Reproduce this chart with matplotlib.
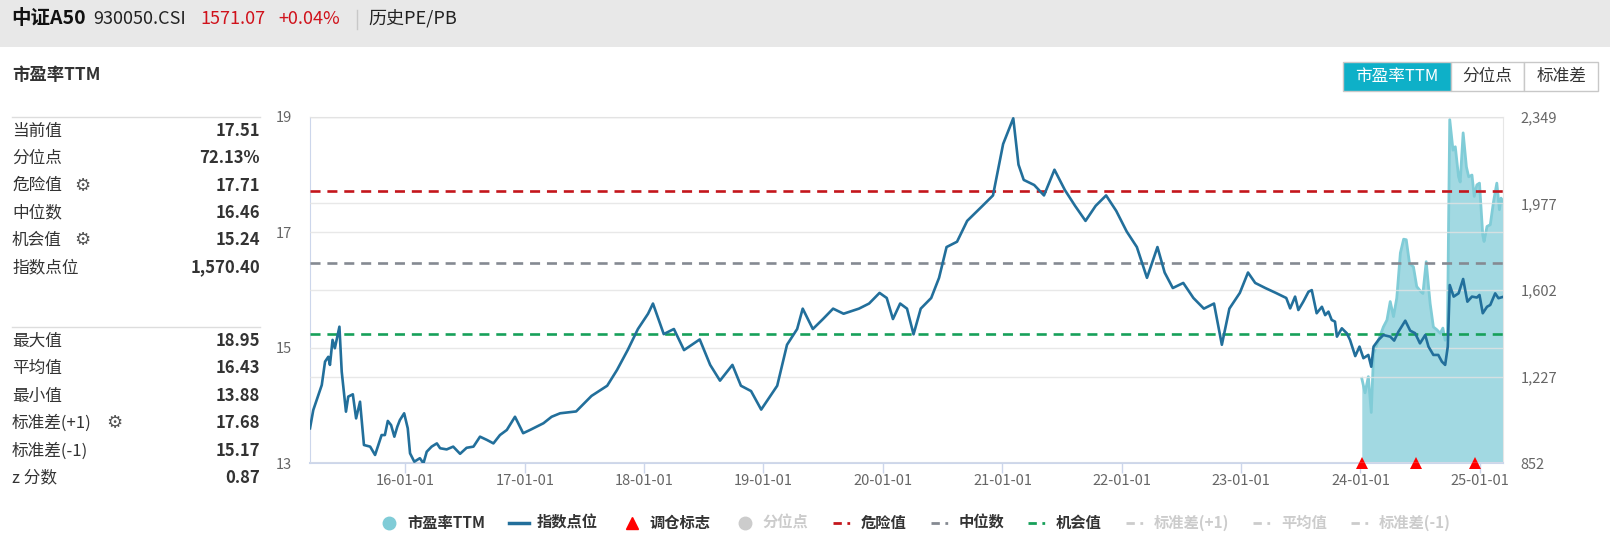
import numpy as np
import pandas as pd
import matplotlib
matplotlib.use('Agg')
import matplotlib.pyplot as plt
import matplotlib.dates as mdates
from matplotlib.patches import Rectangle
from matplotlib.lines import Line2D

plt.rcParams['font.family'] = ['Noto Sans CJK SC', 'DejaVu Sans']

W, H = 1610, 542

# 指数点位 (right axis)
idx_dates = ['2015-03-16', '2015-03-26', '2015-04-21', '2015-05-01', '2015-05-11', '2015-05-16',
             '2015-05-24', '2015-05-31', '2015-06-14', '2015-06-21', '2015-07-04', '2015-07-11',
             '2015-07-25', '2015-08-04', '2015-08-16', '2015-08-28', '2015-09-16', '2015-10-01',
             '2015-10-21', '2015-10-31', '2015-11-09', '2015-11-19', '2015-11-29', '2015-12-08',
             '2015-12-16', '2015-12-29', '2016-01-09', '2016-01-16', '2016-01-29', '2016-02-15',
             '2016-02-26', '2016-03-07', '2016-03-22', '2016-04-07', '2016-04-17', '2016-05-07',
             '2016-05-27', '2016-06-17', '2016-07-07', '2016-07-28', '2016-08-17', '2016-09-07',
             '2016-09-27', '2016-10-17', '2016-11-07', '2016-12-02', '2016-12-27', '2017-01-17',
             '2017-02-06', '2017-02-27', '2017-03-24', '2017-04-19', '2017-06-07', '2017-07-24',
             '2017-09-10', '2017-10-10', '2017-11-12', '2017-12-13', '2018-01-13', '2018-01-28',
             '2018-03-02', '2018-04-02', '2018-05-03', '2018-06-20', '2018-07-22', '2018-08-21',
             '2018-09-28', '2018-10-24', '2018-11-24', '2018-12-25', '2019-02-12', '2019-03-14',
             '2019-04-14', '2019-05-01', '2019-06-01', '2019-07-02', '2019-08-02', '2019-09-03',
             '2019-10-20', '2019-11-20', '2019-12-22', '2020-01-13', '2020-02-01', '2020-02-23',
             '2020-03-15', '2020-04-04', '2020-04-26', '2020-05-28', '2020-06-21', '2020-07-14',
             '2020-08-15', '2020-09-15', '2020-11-01', '2020-12-03', '2021-01-03', '2021-02-03',
             '2021-02-19', '2021-03-07', '2021-04-08', '2021-05-08', '2021-06-09', '2021-07-11',
             '2021-08-11', '2021-09-12', '2021-10-13', '2021-11-14', '2021-12-15', '2022-01-16',
             '2022-02-16', '2022-03-19', '2022-04-20', '2022-05-12', '2022-06-06', '2022-07-08',
             '2022-08-08', '2022-09-09', '2022-10-10', '2022-11-03', '2022-11-26', '2022-12-28',
             '2023-01-22', '2023-02-13', '2023-03-16', '2023-04-17', '2023-05-19', '2023-05-31',
             '2023-06-15', '2023-06-25', '2023-07-10', '2023-07-26', '2023-08-05', '2023-08-20',
             '2023-09-05', '2023-09-15', '2023-09-25', '2023-10-05', '2023-10-15', '2023-10-21',
             '2023-11-05', '2023-11-20', '2023-11-30', '2023-12-16', '2023-12-29', '2024-01-10',
             '2024-01-25', '2024-02-03', '2024-02-10', '2024-02-25', '2024-03-11', '2024-04-01',
             '2024-04-13', '2024-04-26', '2024-05-17', '2024-06-01', '2024-06-16', '2024-07-01',
             '2024-07-17', '2024-07-27', '2024-08-11', '2024-08-26', '2024-09-06', '2024-09-16',
             '2024-09-24', '2024-09-30', '2024-10-12', '2024-10-27', '2024-11-10', '2024-11-23',
             '2024-12-07', '2024-12-22', '2024-12-30', '2025-01-09', '2025-01-22', '2025-02-01',
             '2025-02-16', '2025-02-26', '2025-03-11']
idx_vals = [1003, 1082, 1190, 1291, 1312, 1277, 1385, 1349, 1442, 1248, 1075, 1140,
            1150, 1046, 1118, 931, 924, 888, 974, 974, 1035, 1017, 967, 1010,
            1039, 1068, 1003, 895, 859, 874, 852, 902, 924, 938, 917, 912,
            924, 893, 919, 924, 967, 953, 938, 974, 996, 1053, 982, 996,
            1010, 1025, 1053, 1068, 1076, 1143, 1187, 1255, 1342, 1432, 1498, 1542,
            1410, 1432, 1341, 1387, 1277, 1209, 1277, 1187, 1164, 1084, 1187, 1364,
            1432, 1520, 1432, 1475, 1520, 1498, 1520, 1542, 1588, 1566, 1475, 1542,
            1520, 1409, 1520, 1566, 1653, 1786, 1809, 1899, 1964, 2009, 2231, 2342,
            2142, 2076, 2054, 2009, 2120, 2032, 1964, 1899, 1964, 2009, 1942, 1853,
            1786, 1653, 1786, 1676, 1609, 1631, 1566, 1520, 1542, 1364, 1520, 1588,
            1676, 1631, 1609, 1588, 1566, 1521, 1572, 1514, 1550, 1593, 1600, 1500,
            1528, 1492, 1507, 1471, 1464, 1399, 1435, 1414, 1385, 1315, 1356, 1306,
            1320, 1269, 1356, 1385, 1406, 1399, 1382, 1420, 1468, 1425, 1414, 1370,
            1406, 1356, 1320, 1320, 1291, 1277, 1356, 1622, 1572, 1586, 1648, 1550,
            1572, 1568, 1579, 1500, 1528, 1536, 1586, 1565, 1570.4]

# 市盈率TTM (left axis)
pe_dates = ['2024-01-05', '2024-01-15', '2024-01-25', '2024-02-03', '2024-02-10', '2024-02-25',
            '2024-03-11', '2024-03-22', '2024-04-01', '2024-04-11', '2024-04-21', '2024-05-02',
            '2024-05-12', '2024-05-20', '2024-05-30', '2024-06-11', '2024-06-21', '2024-07-04',
            '2024-07-10', '2024-07-20', '2024-08-01', '2024-08-11', '2024-08-22', '2024-09-01',
            '2024-09-09', '2024-09-16', '2024-09-23', '2024-09-26', '2024-09-30', '2024-10-10',
            '2024-10-17', '2024-10-27', '2024-11-01', '2024-11-10', '2024-11-20', '2024-11-27',
            '2024-12-07', '2024-12-14', '2024-12-22', '2024-12-30', '2025-01-09', '2025-01-13',
            '2025-01-22', '2025-02-01', '2025-02-11', '2025-02-21', '2025-03-01', '2025-03-06',
            '2025-03-11']
pe_vals = [14.47, 14.22, 14.50, 13.88, 14.90, 15.13, 15.36, 15.48, 15.80, 15.54, 15.86, 16.64,
           16.88, 16.87, 16.46, 16.40, 16.06, 15.97, 15.94, 16.49, 15.77, 15.36, 15.31, 15.25,
           15.34, 15.13, 15.20, 16.90, 18.95, 18.42, 18.48, 17.96, 17.87, 18.72, 18.13, 17.96,
           17.99, 17.62, 17.82, 17.85, 16.95, 16.84, 17.10, 17.13, 17.53, 17.85, 17.39, 17.59,
           17.51]

trade_dates = ['2024-01-05', '2024-06-19', '2024-12-17']

danger, median, chance = 17.71, 16.46, 15.24
pe_ticks = [13, 15, 17, 19]
idx_tick_labels = ['852', '1,227', '1,602', '1,977', '2,349']

stat_labels1 = ['当前值', '分位点', '危险值', '中位数', '机会值', '指数点位']
stat_vals1 = ['17.51', '72.13%', '17.71', '16.46', '15.24', '1,570.40']
stat_labels2 = ['最大值', '平均值', '最小值', '标准差(+1)', '标准差(-1)', 'z 分数']
stat_vals2 = ['18.95', '16.43', '13.88', '17.68', '15.17', '0.87']


def fx(x):
    return x / W


def fy(y):
    return 1 - y / H


fig = plt.figure(figsize=(W / 100, H / 100), dpi=100)
fig.patch.set_facecolor('white')

# header bar
fig.patches.append(Rectangle((0, fy(47)), 1, 47 / H, transform=fig.transFigure,
                             facecolor='#e8e8e8', edgecolor='none', zorder=0))
fig.text(fx(11), fy(19), '中证A50', size=14, weight='bold', va='center', color='#111111')
fig.text(fx(93), fy(19), '930050.CSI', size=13, va='center', color='#222222')
fig.text(fx(200), fy(19), '1571.07', size=13, va='center', color='#d0121b')
fig.text(fx(278), fy(19), '+0.04%', size=13, va='center', color='#d0121b')
fig.add_artist(Line2D([fx(357), fx(357)], [fy(10), fy(29)], color='#c8c8c8', lw=1))
fig.text(fx(368), fy(19), '历史PE/PB', size=13, va='center', color='#222222')

# left stats panel
fig.text(fx(12), fy(75), '市盈率TTM', size=12.5, weight='bold', va='center', color='#333333')
for ysep in [117.3, 327.3]:
    fig.add_artist(Line2D([fx(12), fx(260)], [fy(ysep), fy(ysep)], color='#dddddd', lw=1))
rows1 = [131, 158.3, 185.5, 212.7, 240, 267.5]
rows2 = [341, 368.3, 396, 423.3, 450.7, 478]
for lab, val, y in zip(stat_labels1 + stat_labels2, stat_vals1 + stat_vals2, rows1 + rows2):
    fig.text(fx(12), fy(y), lab, size=12, va='center', color='#333333')
    fig.text(fx(260), fy(y), val, size=12, weight='bold', va='center', ha='right', color='#333333')
for gx, gy in [(82, rows1[2]), (82, rows1[4]), (114, rows2[3])]:
    fig.text(fx(gx), fy(gy), '\u2699', size=13, va='center', ha='center', color='#555555',
             family='DejaVu Sans')

# buttons
btns = [('市盈率TTM', 1342.7, 1451), ('分位点', 1451, 1524.3), ('标准差', 1524.3, 1598.3)]
for i, (txt, x0, x1) in enumerate(btns):
    fc = '#0eb0c8' if i == 0 else 'white'
    fig.patches.append(Rectangle((fx(x0), fy(91)), (x1 - x0) / W, 29.3 / H,
                                 transform=fig.transFigure, facecolor=fc,
                                 edgecolor='#c8c8c8', lw=1))
    fig.text(fx((x0 + x1) / 2), fy(76.5), txt, size=12, ha='center', va='center',
             color='white' if i == 0 else '#333333')

# main chart
ax = fig.add_axes([fx(310), fy(463.3), 1192.7 / W, 346.6 / H])
ax2 = ax.twinx()

pe_d = pd.to_datetime(pe_dates)
idx_d = pd.to_datetime(idx_dates)
tr_d = pd.to_datetime(trade_dates)

ax.fill_between(pe_d, 13, pe_vals, color='#a2d9e2', lw=0, zorder=1)
ax.plot(pe_d, pe_vals, color='#80ccd7', lw=2, zorder=2)
for v, c in [(danger, '#c4161c'), (median, '#858a92'), (chance, '#17a05a')]:
    ax.axhline(v, color=c, lw=1.9, dashes=(3.8, 2.6), zorder=4)

ax2.plot(idx_d, idx_vals, color='#226f9b', lw=1.9, zorder=3)

ax.plot(tr_d, [pe_ticks[0]] * len(tr_d), '^', color='#ff0000', ms=9, mew=0,
        clip_on=False, zorder=10)

ax.set_xlim(pd.Timestamp('2015-03-16'), pd.Timestamp('2025-03-11'))
ax.set_ylim(13, 19)
ax.set_yticks(pe_ticks)
ax2.set_ylim(852, 2349)
ax2.set_yticks(np.linspace(852, 2349, 5))
ax2.set_yticklabels(idx_tick_labels)

ax.xaxis.set_major_locator(mdates.YearLocator())
ax.xaxis.set_major_formatter(mdates.DateFormatter('%y-%m-%d'))

ax.set_axisbelow(False)
ax.yaxis.grid(True, color='#e3e3e3', lw=1, alpha=0.8)
ax2.yaxis.grid(True, color='#e3e3e3', lw=1, alpha=0.8)

for s in ['top', 'right']:
    ax.spines[s].set_color('#e6e6e6')
ax.spines['left'].set_color('#ccd6eb')
ax.spines['bottom'].set_color('#ccd6eb')
ax.spines['bottom'].set_linewidth(1.5)
for s in ax2.spines.values():
    s.set_visible(False)

ax.tick_params(axis='y', length=0, pad=13, labelsize=10.5, labelcolor='#666666')
ax2.tick_params(axis='y', length=0, pad=13, labelsize=10.5, labelcolor='#666666')
ax.tick_params(axis='x', length=7, width=1, color='#ccd6eb', pad=1, labelsize=10.5,
               labelcolor='#666666')

# legend
handles = [
    Line2D([], [], marker='o', ls='none', color='#80ccd7', ms=9),
    Line2D([], [], color='#226f9b', lw=2.5),
    Line2D([], [], marker='^', ls='none', color='#ff0000', ms=9),
    Line2D([], [], marker='o', ls='none', color='#cccccc', ms=9),
    Line2D([], [], color='#c4161c', lw=2, ls=(0, (3, 2, 1, 2))),
    Line2D([], [], color='#858a92', lw=2, ls=(0, (3, 2, 1, 2))),
    Line2D([], [], color='#17a05a', lw=2, ls=(0, (3, 2, 1, 2))),
    Line2D([], [], color='#cccccc', lw=2, ls=(0, (3, 2, 1, 2))),
    Line2D([], [], color='#cccccc', lw=2, ls=(0, (3, 2, 1, 2))),
    Line2D([], [], color='#cccccc', lw=2, ls=(0, (3, 2, 1, 2))),
]
labels = ['市盈率TTM', '指数点位', '调仓标志', '分位点', '危险值', '中位数', '机会值',
          '标准差(+1)', '平均值', '标准差(-1)']
inactive = {'分位点', '标准差(+1)', '平均值', '标准差(-1)'}
leg = fig.legend(handles, labels, ncol=10, loc='center', bbox_to_anchor=(fx(915), fy(523)),
                 frameon=False, handlelength=1.3, handletextpad=0.5, columnspacing=1.6,
                 prop={'weight': 'bold', 'size': 11})
for t in leg.get_texts():
    t.set_color('#cccccc' if t.get_text() in inactive else '#333333')

fig.savefig('out.png', dpi=100)
